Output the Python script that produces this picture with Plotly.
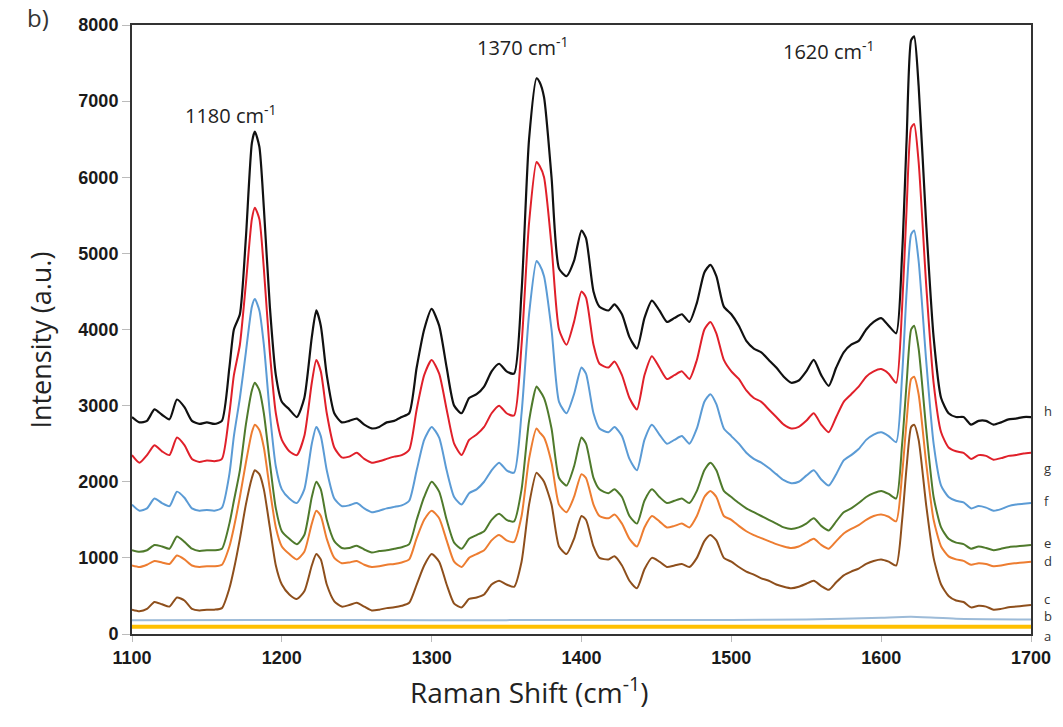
import plotly.graph_objects as go

shift = [1100,1105,1110,1115,1120,1125,1130,1135,1140,1145,
         1150,1155,1160,1165,1168,1172,1176,1180,1182,1185,
         1188,1192,1196,1200,1205,1210,1215,1220,1223,1226,
         1230,1235,1240,1245,1250,1255,1260,1265,1270,1275,
         1280,1285,1290,1295,1300,1305,1310,1315,1320,1325,
         1330,1335,1340,1345,1350,1355,1360,1365,1370,1372,
         1375,1380,1385,1390,1395,1400,1403,1408,1412,1418,
         1422,1427,1432,1437,1442,1447,1452,1457,1462,1467,
         1472,1477,1482,1486,1490,1495,1500,1505,1510,1515,
         1520,1525,1530,1535,1540,1545,1550,1555,1560,1565,
         1570,1575,1580,1585,1590,1595,1600,1605,1610,1614,
         1617,1620,1622,1625,1630,1635,1640,1645,1650,1655,
         1660,1665,1670,1675,1680,1685,1690,1695,1700]

h = [2850,2780,2800,2950,2880,2820,3080,2980,2800,2760,
     2780,2760,2800,3500,4000,4200,5200,6450,6600,6400,
     5600,4300,3400,3050,2950,2850,3100,3900,4250,4050,
     3400,2900,2780,2800,2830,2750,2700,2720,2780,2800,
     2850,2900,3500,4000,4270,4050,3500,3000,2900,3100,
     3150,3250,3450,3550,3450,3420,4500,6500,7300,7250,
     7050,6000,4800,4700,4900,5300,5200,4500,4300,4250,
     4330,4200,3900,3750,4150,4380,4250,4100,4150,4200,
     4100,4350,4750,4850,4700,4300,4200,4050,3850,3750,
     3700,3600,3500,3380,3300,3330,3450,3600,3400,3260,
     3500,3700,3800,3850,4000,4100,4150,4050,3950,5000,
     6500,7800,7850,7200,5400,3900,3100,2900,2850,2850,
     2750,2800,2800,2750,2780,2820,2830,2850,2850]

g = [2350,2250,2350,2480,2400,2350,2580,2480,2300,2260,
     2280,2270,2300,2900,3400,3800,4600,5450,5600,5450,
     4800,3700,2900,2550,2400,2350,2600,3300,3600,3450,
     2900,2450,2320,2330,2380,2300,2250,2270,2300,2330,
     2350,2420,2950,3400,3600,3420,2950,2500,2350,2550,
     2620,2720,2900,3000,2900,2870,3800,5400,6200,6150,
     6000,5100,4000,3800,4100,4500,4420,3800,3550,3500,
     3580,3400,3100,2950,3400,3650,3500,3350,3400,3450,
     3350,3600,4000,4100,3950,3600,3450,3350,3200,3100,
     3050,2950,2850,2750,2700,2720,2800,2900,2750,2650,
     2850,3050,3150,3250,3380,3450,3480,3420,3300,4300,
     5600,6650,6700,6200,4600,3300,2650,2450,2400,2380,
     2300,2350,2340,2290,2310,2340,2350,2370,2380]

f = [1700,1620,1650,1780,1720,1680,1870,1790,1650,1620,
     1630,1620,1660,2100,2600,3100,3700,4300,4400,4250,
     3800,2900,2200,1900,1780,1720,1900,2500,2720,2600,
     2150,1780,1680,1690,1720,1650,1600,1620,1650,1670,
     1690,1750,2150,2550,2720,2580,2150,1800,1700,1850,
     1900,2000,2150,2250,2150,2120,2900,4200,4900,4850,
     4700,4000,3050,2900,3150,3500,3420,2900,2700,2650,
     2720,2600,2300,2150,2550,2750,2620,2500,2550,2600,
     2500,2700,3050,3150,3020,2700,2600,2500,2380,2300,
     2250,2180,2100,2020,1980,2000,2080,2150,2030,1950,
     2100,2280,2350,2430,2550,2620,2650,2600,2520,3400,
     4500,5250,5300,4900,3600,2500,1950,1800,1750,1730,
     1650,1680,1660,1620,1640,1680,1700,1710,1720]

e = [1100,1080,1100,1170,1150,1120,1280,1210,1120,1090,
     1100,1100,1120,1450,1750,2150,2750,3200,3300,3200,
     2900,2250,1650,1350,1250,1180,1300,1800,2000,1900,
     1500,1220,1130,1130,1160,1110,1070,1090,1100,1120,
     1140,1180,1500,1800,2000,1870,1500,1200,1120,1250,
     1300,1350,1500,1580,1500,1480,1900,2800,3250,3200,
     3100,2700,2050,1950,2200,2580,2500,2050,1900,1850,
     1900,1800,1550,1450,1750,1900,1800,1720,1750,1780,
     1720,1880,2150,2250,2150,1880,1800,1720,1650,1600,
     1550,1500,1450,1400,1380,1400,1450,1520,1420,1360,
     1480,1600,1650,1720,1800,1850,1880,1840,1780,2500,
     3300,4000,4050,3750,2700,1800,1400,1250,1200,1180,
     1120,1150,1130,1100,1120,1140,1150,1160,1170]

d = [900,880,910,960,940,920,1030,980,900,880,
     890,890,910,1150,1400,1800,2250,2650,2750,2680,
     2450,1900,1400,1150,1050,980,1080,1450,1620,1550,
     1250,1000,930,940,960,910,880,890,910,920,
     940,980,1260,1500,1620,1520,1230,950,880,1000,
     1050,1100,1230,1300,1230,1210,1550,2300,2700,2650,
     2580,2250,1700,1600,1800,2100,2050,1700,1550,1520,
     1570,1450,1250,1150,1400,1550,1480,1400,1420,1450,
     1400,1550,1800,1880,1800,1550,1500,1420,1350,1300,
     1260,1220,1180,1150,1130,1150,1200,1250,1170,1120,
     1220,1320,1380,1430,1500,1550,1570,1540,1480,2100,
     2800,3350,3380,3150,2250,1500,1150,1020,980,960,
     910,930,920,890,900,920,930,940,950]

c = [320,300,330,420,390,360,480,440,330,310,
     320,320,340,600,850,1250,1700,2050,2150,2100,
     1900,1400,900,650,520,460,560,900,1050,980,
     650,430,360,380,410,360,310,320,340,350,
     370,410,650,900,1050,950,650,400,350,460,
     480,520,650,700,650,620,950,1700,2120,2080,
     2000,1700,1150,1050,1250,1550,1500,1150,1000,980,
     1020,900,700,600,850,1000,950,880,900,920,
     880,1000,1220,1300,1230,1000,950,880,820,780,
     730,700,650,620,600,620,660,700,630,580,
     680,770,820,860,920,960,980,950,900,1500,
     2200,2720,2750,2550,1700,1000,650,500,440,420,
     350,370,360,320,330,350,360,370,380]

b_shift = [1100, 1200, 1300, 1400, 1500, 1550, 1600, 1620, 1650, 1700]
b = [180, 185, 180, 185, 185, 190, 215, 225, 200, 190]

a_shift = [1100, 1300, 1500, 1700]
a = [95, 95, 95, 95]

series_names = ["a", "b", "c", "d", "e", "f", "g", "h"]
# label positions in paper fraction of the plot height
label_pos = [-0.003, 0.03, 0.058, 0.12, 0.15, 0.218, 0.272, 0.366]
peak_labels = ["1180 cm<sup>-1</sup>", "1370 cm<sup>-1</sup>", "1620 cm<sup>-1</sup>"]
peak_label_x = [1166, 1361, 1565]
peak_label_y = [6830, 7720, 7660]

colors = {"a": "#ffc000", "b": "#9dbbd8", "c": "#8e4f1c", "d": "#ed7d31",
          "e": "#4f7a2c", "f": "#5b9bd5", "g": "#e0202a", "h": "#111111"}
widths = {"a": 4, "b": 2, "c": 2, "d": 2, "e": 2, "f": 2, "g": 2, "h": 2.2}
data = {"a": (a_shift, a), "b": (b_shift, b), "c": (shift, c), "d": (shift, d),
        "e": (shift, e), "f": (shift, f), "g": (shift, g), "h": (shift, h)}

fig = go.Figure()
for n in series_names:
    xs, ys = data[n]
    fig.add_trace(go.Scatter(x=xs, y=ys, mode="lines", name=n,
                             line=dict(color=colors[n], width=widths[n], shape="spline", smoothing=0.6),
                             showlegend=False))

for n, ly in zip(series_names, label_pos):
    fig.add_annotation(x=1.012, xref="paper", y=ly, yref="paper", text=n, showarrow=False,
                       xanchor="left", yanchor="middle",
                       font=dict(family="Open Sans", size=13, color="#333333"))

for t, px, py in zip(peak_labels, peak_label_x, peak_label_y):
    fig.add_annotation(x=px, y=py, text=t, showarrow=False, xanchor="center", yanchor="middle",
                       font=dict(family="Open Sans", size=20, color="#222222"))

fig.add_annotation(text="b)", showarrow=False, xref="paper", yref="paper",
                   x=-0.105, y=1.012, xanchor="center", yanchor="middle",
                   font=dict(family="Open Sans", size=24, color="#333333"))

fig.add_annotation(text="Raman Shift (cm<sup>-1</sup>)", showarrow=False, xref="paper", yref="paper",
                   x=0.4415, y=-0.092, xanchor="center", yanchor="middle",
                   font=dict(family="Open Sans", size=28, color="#222222"))

fig.add_annotation(text="Intensity (a.u.)", showarrow=False, xref="paper", yref="paper",
                   x=-0.1015, y=0.483, xanchor="center", yanchor="middle", textangle=-90,
                   font=dict(family="Open Sans", size=27, color="#222222"))

fig.update_layout(
    width=1063, height=727,
    margin=dict(l=132, r=25, t=25, b=93),
    paper_bgcolor="white", plot_bgcolor="white",
    xaxis=dict(range=[1100, 1700], tickvals=[1100, 1200, 1300, 1400, 1500, 1600, 1700],
               showgrid=False, zeroline=False, showline=True, linecolor="#333333", linewidth=2,
               mirror=True, ticks="outside", ticklen=6, tickcolor="#bbbbbb",
               tickfont=dict(family="Liberation Sans", size=18, color="#1a1a1a", weight="bold")),
    yaxis=dict(range=[0, 8000], tickvals=list(range(0, 8001, 1000)),
               showgrid=False, zeroline=False, showline=True, linecolor="#333333", linewidth=2,
               mirror=True, ticks="outside", ticklen=8, tickcolor="#bbbbbb",
               tickfont=dict(family="Liberation Sans", size=18, color="#1a1a1a", weight="bold")),
)

fig.write_html("out.html")
